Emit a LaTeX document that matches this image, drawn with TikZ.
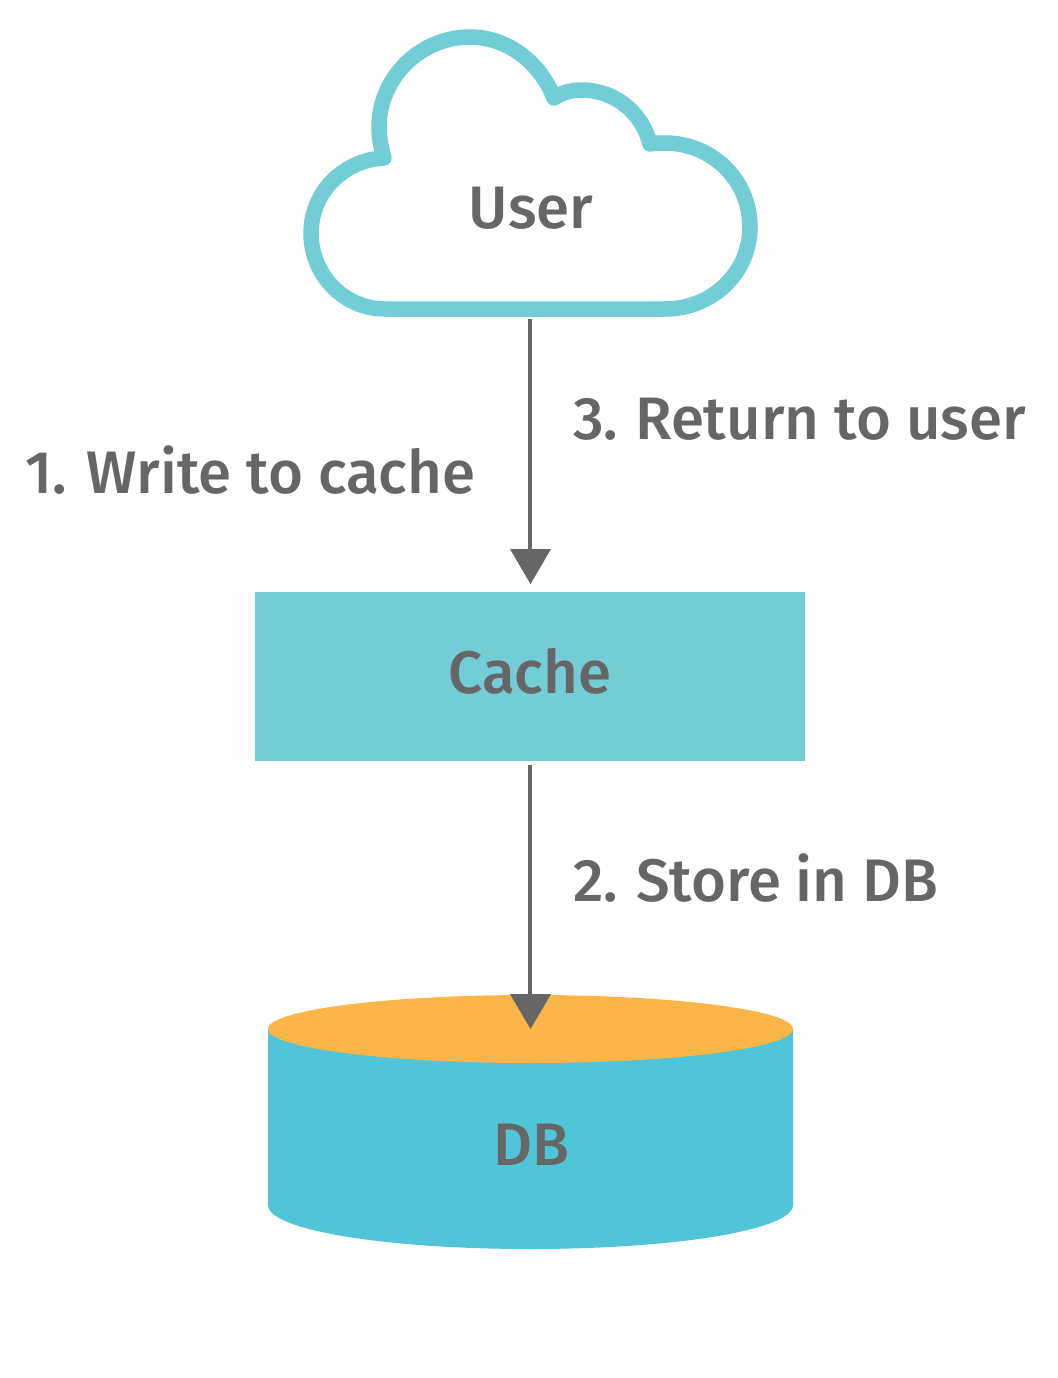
\documentclass[tikz,border=0pt]{standalone}
\usepackage{fontspec}
\usetikzlibrary{shapes.geometric}
\setmainfont{Fira Sans}[UprightFont={* Medium},BoldFont={* SemiBold}]
\definecolor{cloudc}{HTML}{72CDD6}
\definecolor{cachec}{HTML}{74CCD5}
\definecolor{dbc}{HTML}{4FC5D7}
\definecolor{topc}{HTML}{FBB549}
\definecolor{inkc}{HTML}{666666}
\tikzset{
  lbl/.style={text=inkc,inner sep=0pt,font=\fontsize{60}{62}\selectfont},
  flow/.style={draw=inkc,line width=3.4pt},
  tipc/.style={fill=inkc,draw=none}
}
\begin{document}
\begin{tikzpicture}[x=1pt,y=-1pt]
\useasboundingbox (0,0) rectangle (1057,1378);
\fill[white] (0,0) rectangle (1057,1378);
% cloud
\draw[cloudc,line width=15.5pt,line join=round,fill=white]
  (385,309) -- (665,309)
  .. controls (713,309) and (750,272) .. (750,227)
  .. controls (750,180) and (712,143) .. (665,143)
  .. controls (660,143) and (655,143) .. (650,144)
  .. controls (642,112) and (614,90) .. (582,90)
  .. controls (571,90) and (561,93) .. (554,98)
  .. controls (540,62) and (507,37) .. (470,37)
  .. controls (420,37) and (379,78) .. (379,127)
  .. controls (379,137) and (381,148) .. (384,158)
  .. controls (343,160) and (311,193) .. (311,233)
  .. controls (311,275) and (344,309) .. (385,309) -- cycle;
\node[lbl] (user) at (531,208) {User};
% cache
\node[fill=cachec,minimum width=550pt,minimum height=169pt,inner sep=0pt,anchor=north west] (cache) at (255,592) {};
\node[lbl] (cachet) at (530,671) {Cache};
% db
\fill[dbc] (268,1029) -- (268,1205) .. controls (268,1230) and (385,1249) .. (530,1249)
  .. controls (675,1249) and (793,1230) .. (793,1205) -- (793,1029) -- cycle;
\node[ellipse,fill=topc,minimum width=525pt,minimum height=68pt,inner sep=0pt] (dbtop) at (530.5,1029) {};
\node[lbl] (dbt) at (531,1145) {DB};
% connector coordinates
\coordinate (a1) at (530,319);
\coordinate (a1e) at (530,552);
\coordinate (a2) at (530,765);
\coordinate (a2e) at (530,997);
\draw[flow] (a1) -- (a1e);
\fill[tipc] (510,549) -- (551,549) -- (530.5,584) -- cycle;
\draw[flow] (a2) -- (a2e);
\fill[tipc] (510,994) -- (551,994) -- (530.5,1029) -- cycle;
% labels
\node[lbl,anchor=base west] (l1) at (25,493) {1. Write to cache};
\node[lbl,anchor=base west] (l3) at (573,439) {3.\kern2pt\ Return to user};
\node[lbl,anchor=base west] (l2) at (573,901) {2.\kern3pt\ Store in DB};
\end{tikzpicture}
\end{document}
